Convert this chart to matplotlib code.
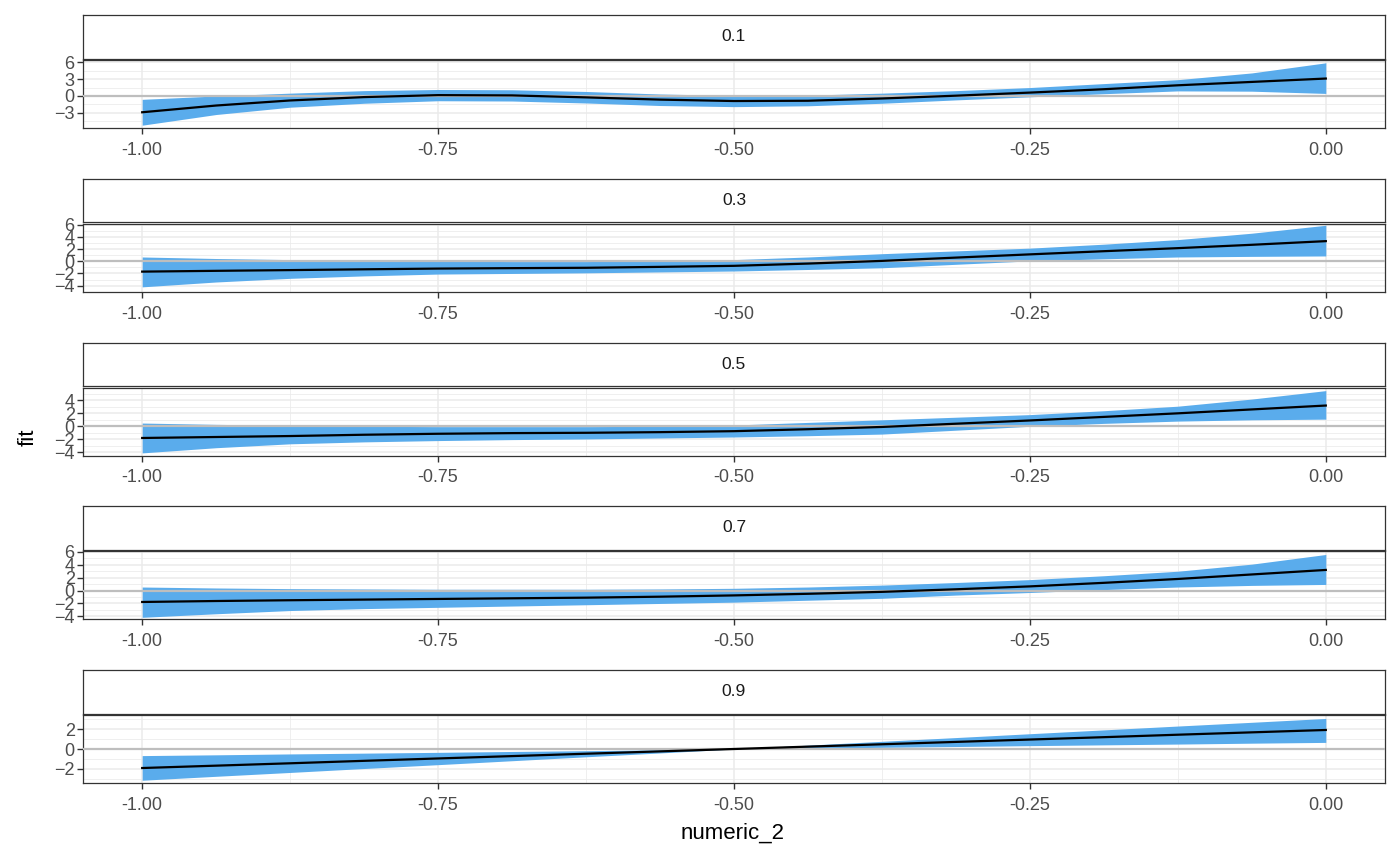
import numpy as np
import matplotlib
matplotlib.use('Agg')
import matplotlib.pyplot as plt

plt.rcParams['font.family'] = ['Liberation Sans', 'DejaVu Sans']

# facet labels
levels = ['0.1', '0.3', '0.5', '0.7', '0.9']

# common x grid (numeric_2)
x = [-1.0, -0.9375, -0.875, -0.8125, -0.75, -0.6875, -0.625, -0.5625, -0.5,
     -0.4375, -0.375, -0.3125, -0.25, -0.1875, -0.125, -0.0625, 0.0]

fit_01 = [-2.9, -1.7, -0.8, -0.2, 0.15, 0.1, -0.25, -0.65, -0.9, -0.85, -0.45, 0.05, 0.6, 1.2, 1.9, 2.5, 3.1]
upr_01 = [-0.6, 0.0, 0.5, 0.95, 1.15, 1.1, 0.8, 0.35, 0.1, 0.15, 0.5, 0.95, 1.5, 2.2, 2.9, 4.1, 5.9]
lwr_01 = [-5.2, -3.3, -2.0, -1.3, -0.85, -0.9, -1.25, -1.7, -1.9, -1.75, -1.3, -0.7, -0.15, 0.4, 0.9, 0.85, 0.45]

fit_03 = [-1.7, -1.57, -1.45, -1.32, -1.2, -1.13, -1.07, -0.92, -0.75, -0.38, 0.06, 0.6, 1.13, 1.65, 2.15, 2.7, 3.3]
upr_03 = [0.7, 0.45, 0.27, 0.1, 0.0, -0.05, -0.05, 0.05, 0.27, 0.7, 1.24, 1.7, 2.15, 2.8, 3.55, 4.6, 5.9]
lwr_03 = [-4.2, -3.4, -2.8, -2.4, -2.1, -2.0, -1.9, -1.75, -1.6, -1.35, -1.07, -0.5, 0.06, 0.4, 0.7, 0.8, 0.87]

fit_05 = [-1.8, -1.65, -1.5, -1.3, -1.15, -1.05, -1.0, -0.9, -0.75, -0.45, -0.1, 0.4, 0.9, 1.45, 2.0, 2.6, 3.2]
upr_05 = [0.5, 0.3, 0.15, 0.0, -0.05, -0.05, -0.05, 0.0, 0.2, 0.6, 1.0, 1.4, 1.8, 2.4, 3.1, 4.2, 5.5]
lwr_05 = [-4.1, -3.3, -2.7, -2.4, -2.2, -2.05, -1.95, -1.8, -1.65, -1.45, -1.2, -0.6, 0.0, 0.45, 0.8, 1.0, 1.1]

fit_07 = [-1.77, -1.62, -1.5, -1.4, -1.3, -1.2, -1.1, -0.95, -0.75, -0.5, -0.2, 0.2, 0.65, 1.2, 1.8, 2.5, 3.2]
upr_07 = [0.55, 0.4, 0.3, 0.25, 0.2, 0.2, 0.2, 0.25, 0.35, 0.55, 0.85, 1.25, 1.7, 2.3, 3.0, 4.1, 5.6]
lwr_07 = [-4.15, -3.6, -3.1, -2.8, -2.6, -2.4, -2.2, -2.0, -1.8, -1.5, -1.2, -0.7, -0.3, 0.15, 0.55, 0.8, 0.95]

fit_09 = [-1.93, -1.69, -1.45, -1.2, -0.96, -0.72, -0.48, -0.24, 0.0, 0.24, 0.48, 0.72, 0.96, 1.2, 1.45, 1.69, 1.93]
upr_09 = [-0.67, -0.59, -0.5, -0.42, -0.34, -0.25, -0.17, -0.08, 0.0, 0.39, 0.78, 1.16, 1.55, 1.94, 2.33, 2.71, 3.1]
lwr_09 = [-3.17, -2.77, -2.38, -1.98, -1.59, -1.19, -0.79, -0.4, 0.0, 0.08, 0.17, 0.25, 0.34, 0.42, 0.5, 0.59, 0.67]

fits = [fit_01, fit_03, fit_05, fit_07, fit_09]
uprs = [upr_01, upr_03, upr_05, upr_07, upr_09]
lwrs = [lwr_01, lwr_03, lwr_05, lwr_07, lwr_09]

# free y scales
ylims = [(-5.7, 6.4), (-4.56, 6.15), (-4.5, 5.98), (-4.45, 6.1), (-3.45, 3.45)]
ymajor = [[-3, 0, 3, 6], [-4, -2, 0, 2, 4, 6], [-4, -2, 0, 2, 4], [-4, -2, 0, 2, 4, 6], [-2, 0, 2]]
yminor = [[-4.5, -1.5, 1.5, 4.5], [-5, -3, -1, 1, 3, 5], [-3, -1, 1, 3, 5], [-3, -1, 1, 3, 5], [-3, -1, 1, 3]]

xmajor = [-1.0, -0.75, -0.5, -0.25, 0.0]
xminor = [-0.875, -0.625, -0.375, -0.125]
xlabels = ['-1.00', '-0.75', '-0.50', '-0.25', '0.00']

W, H = 1400, 866
fig = plt.figure(figsize=(14, 8.66), dpi=100)

border = '#333333'
grid = '#EBEBEB'
ribbon = '#5AACEC'

left, right = 83 / W, 1385 / W

for i in range(5):
    st = 15 + i * 163.75
    sb = st + 43.5
    pt = st + 45
    pb = st + 113

    # strip
    sax = fig.add_axes([left, 1 - sb / H, right - left, (sb - st) / H])
    sax.set_xticks([])
    sax.set_yticks([])
    for s in sax.spines.values():
        s.set_color(border)
        s.set_linewidth(0.9)
    sax.text(0.5, 0.5, levels[i], ha='center', va='center', fontsize=12.5,
             color='#1A1A1A', transform=sax.transAxes)

    # panel
    ax = fig.add_axes([left, 1 - pb / H, right - left, (pb - pt) / H])
    ax.set_xlim(-1.05, 0.05)
    ax.set_ylim(*ylims[i])
    ax.set_xticks(xmajor)
    ax.set_xticklabels(xlabels)
    ax.set_xticks(xminor, minor=True)
    ax.set_yticks(ymajor[i])
    ax.set_yticks(yminor[i], minor=True)
    ax.grid(True, which='major', color=grid, linewidth=1.1, zorder=0)
    ax.grid(True, which='minor', color=grid, linewidth=0.55, zorder=0)
    ax.set_axisbelow(True)
    ax.tick_params(which='major', length=4, width=1.0, color=border,
                   labelsize=13, labelcolor='#4D4D4D')
    ax.tick_params(axis='x', which='major', pad=6)
    ax.tick_params(axis='y', which='major', pad=2)
    ax.tick_params(which='minor', length=0)
    for s in ax.spines.values():
        s.set_color(border)
        s.set_linewidth(0.9)

    ax.fill_between(x, lwrs[i], uprs[i], color=ribbon, linewidth=0, zorder=2)
    ax.axhline(0, color='#BEBEBE', linewidth=1.6, zorder=3)
    ax.plot(x, fits[i], color='black', linewidth=1.6, zorder=4)

fig.text(733 / W, 1 - 833 / H, 'numeric_2', ha='center', va='center', fontsize=16)
fig.text(28 / W, 1 - 437 / H, 'fit', ha='center', va='center', rotation=90, fontsize=16)

fig.savefig('out.png', dpi=100)
